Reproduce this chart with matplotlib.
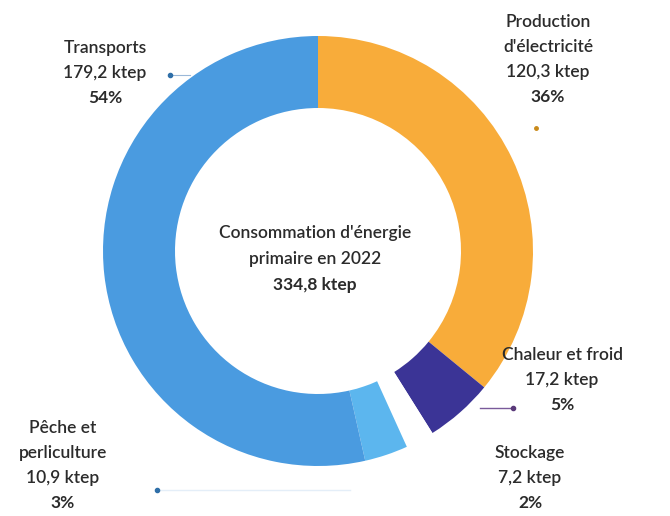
import matplotlib
matplotlib.use("Agg")
import matplotlib.pyplot as plt

# ── Data ─────────────────────────────────────────────────────────────
labels  = ["Production\nd'électricité", "Chaleur et froid", "Stockage",
           "Pêche et\nperliculture", "Transports"]
values  = [120.3, 17.2, 7.2, 10.9, 179.2]
shares  = ["36%", "5%", "2%", "3%", "54%"]
colours = ["#F8AC3A", "#3B3496", "#FFFFFF", "#5CB6EE", "#4A9BE0"]
total   = "334,8 ktep"

plt.rcParams["font.family"] = ["Lato", "DejaVu Sans"]

fig = plt.figure(figsize=(6.7, 5.16), dpi=100)
ax = fig.add_axes([0, 0, 1, 1])

H = 516
cx, cy, R = 318, H - 251, 215

ax.pie(values, colors=colours, startangle=90, counterclock=False,
       radius=R, center=(cx, cy), frame=True,
       wedgeprops=dict(width=72, edgecolor="none"))
ax.set_xlim(0, 670)
ax.set_ylim(0, 516)
ax.set_aspect("equal")
ax.axis("off")

txt = "#2b2b2b"
fs = 12.5


def fmt(v):
    return f"{v:.1f}".replace(".", ",") + " ktep"


# label positions (x, y of first line, in image px)
pos = [(548, 22), (562, 355), (530, 453), (63, 428), (105, 48)]
step = 25
for lab, v, s, (x, y) in zip(labels, values, shares, pos):
    lines = lab.split("\n")
    for i, ln in enumerate(lines):
        ax.text(x, H - (y + i * step), ln, ha="center", va="center",
                fontsize=fs, color=txt, fontweight="semibold")
    n = len(lines)
    ax.text(x, H - (y + n * step), fmt(v), ha="center", va="center",
            fontsize=fs, color=txt, fontweight="semibold")
    ax.text(x, H - (y + (n + 1) * step), s, ha="center", va="center",
            fontsize=fs, color=txt, fontweight="bold")

# leader dots / lines
ax.plot([170, 190], [H - 75, H - 75], color="#9bb8d8", lw=0.8)
ax.plot(170, H - 75, "o", color="#2f6fa8", ms=3)
ax.plot(536, H - 128, "o", color="#c98a1a", ms=2.5)
ax.plot([480, 513], [H - 408, H - 408], color="#7a5a9a", lw=1)
ax.plot(513, H - 408, "o", color="#5a3a7a", ms=3)
ax.plot([157, 350], [H - 490, H - 490], color="#e4eef8", lw=1)
ax.plot(157, H - 490, "o", color="#2f6fa8", ms=3)

# centre text
ax.text(cx - 3, H - 233, "Consommation d'énergie", ha="center",
        va="center", fontsize=fs, color=txt, fontweight="semibold")
ax.text(cx - 3, H - 259, "primaire en 2022", ha="center",
        va="center", fontsize=fs, color=txt, fontweight="semibold")
ax.text(cx - 3, H - 285, total, ha="center", va="center",
        fontsize=fs, color=txt, fontweight="bold")

fig.savefig("out.png", dpi=100)
